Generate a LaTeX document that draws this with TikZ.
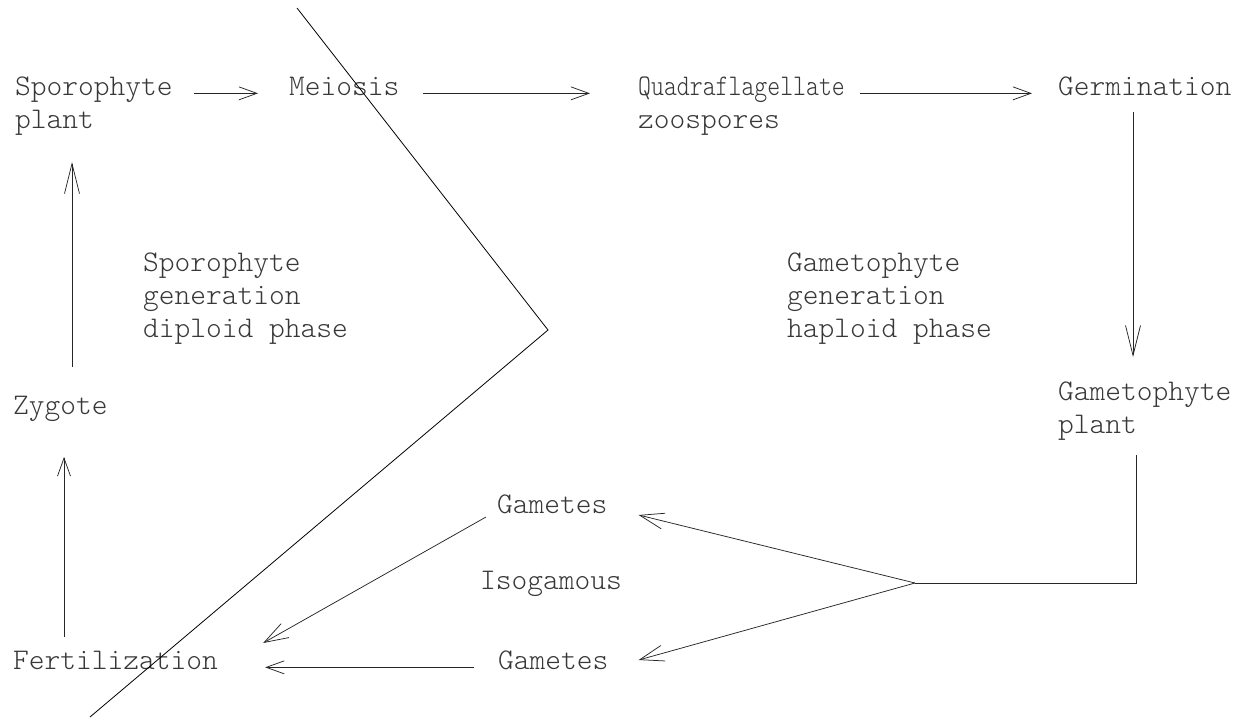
\documentclass[tikz,border=0pt]{standalone}
\usepackage{fontspec}
\newfontfamily\twfont[Extension=.otf]{lmmonolt10-regular}
\usetikzlibrary{arrows.meta}
\begin{document}
\begin{tikzpicture}[x=1pt, y=-1pt,
  lbl/.style={font=\twfont\fontsize{30}{33}\selectfont, text=black!78,
              inner sep=0pt, anchor=base west, align=left},
  con/.style={draw=black!85, line width=0.75pt},
  arr/.style={con, -{Straight Barb[length=18pt, width=13pt]}},
  longarr/.style={con, -{Straight Barb[length=30pt, width=15pt]}},
  slantarr/.style={con, -{Straight Barb[length=24pt, width=16pt]}},
  cutline/.style={draw=black, line width=0.8pt},
]
\useasboundingbox (0,0) rectangle (1245,720);

% stages of the life cycle (multi-line nodes sit on their last line)
\node[lbl] (sp)  at (15,128)     {Sporophyte\\plant};
\node[lbl] (mei) at (289,95.5)   {Meiosis};
\node[lbl] (qz)  at (638,128)    {\scalebox{0.82}[1]{Quadraflagellate}\\zoospores};
\node[lbl] (ger) at (1058,95.5)  {Germination};
\node[lbl] (gp)  at (1058,433)   {Gametophyte\\plant};
\node[lbl] (gt1) at (497,513.5)  {Gametes};
\node[lbl] (iso) at (480,589.5)  {Isogamous};
\node[lbl] (gt2) at (498,669.5)  {Gametes};
\node[lbl] (fer) at (13,669.5)   {Fertilization};
\node[lbl] (zyg) at (13,414.5)   {Zygote};

% phase labels
\node[lbl] (spg) at (143,337)  {Sporophyte\\generation\\diploid phase};
\node[lbl] (gag) at (787,337)  {Gametophyte\\generation\\haploid phase};

% top row
\draw[arr] ([xshift=21pt]sp.east |- mei.mid west) -- ([xshift=-31pt]mei.mid west);
\draw[arr] ([xshift=23pt]mei.mid east) -- ([xshift=-48pt]qz.west |- mei.mid east);
\draw[arr] ([xshift=15pt]qz.east |- ger.mid west) -- ([xshift=-26pt]ger.mid west);

% right side down to the gametophyte
\draw[longarr] ([shift={(75pt,-16.5pt)}]ger.base west) -- ([shift={(75pt,76pt)}]gp.base west);

% gametophyte to the two kinds of gametes
\coordinate (bend) at (1136,583);
\coordinate (fork) at (915,583);
\draw[con] ([yshift=-15pt]gp.south -| bend) -- (bend) -- (fork);
\draw[slantarr] (fork) -- ([shift={(31pt,-1.5pt)}]gt1.base east);
\draw[slantarr] (fork) -- ([shift={(30pt,9.5pt)}]gt2.base east);

% gametes fuse
\draw[slantarr] ([shift={(-11pt,-3.5pt)}]gt1.base west) -- ([shift={(45pt,26.5pt)}]fer.base east);
\draw[arr] ([xshift=-24pt]gt2.mid west) -- ([xshift=47pt]fer.mid east);

% left side back up
\draw[arr] ([shift={(51pt,32.5pt)}]fer.base west) -- ([shift={(51pt,-42.5pt)}]zyg.base west);
\draw[longarr] ([shift={(59pt,47.5pt)}]zyg.base west) -- ([shift={(57pt,-27pt)}]sp.south west);

% dividing line between the two generations
\coordinate (cutTop) at (297,8);
\coordinate (cutTip) at (548,330);
\coordinate (cutEnd) at (90,717);
\draw[cutline] (cutTop) -- (cutTip) -- (cutEnd);
\end{tikzpicture}
\end{document}
